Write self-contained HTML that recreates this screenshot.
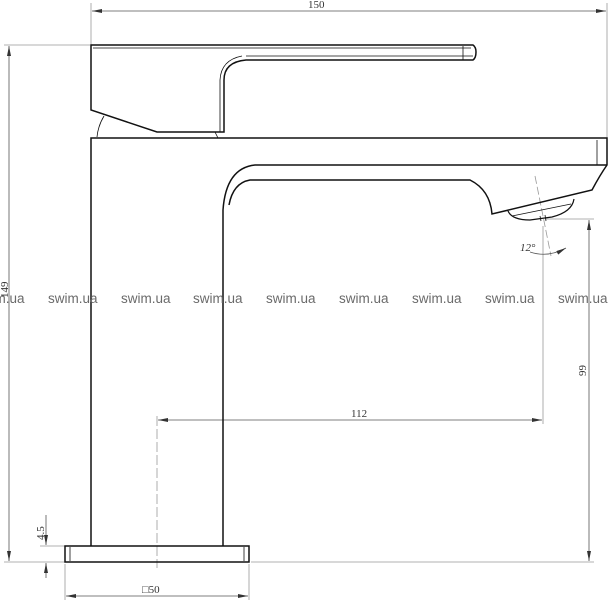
<!DOCTYPE html>
<html><head><meta charset="utf-8"><style>html,body{margin:0;padding:0;background:#fff}svg{display:block}</style></head>
<body>
<svg width="609" height="600" viewBox="0 0 609 600" xmlns="http://www.w3.org/2000/svg">
<defs>
<marker id="a" viewBox="0 0 10 4" refX="10" refY="2" markerWidth="10" markerHeight="4" orient="auto-start-reverse" markerUnits="userSpaceOnUse"><path d="M0,0 L10,2 L0,4 z" fill="#333"/></marker>
</defs>
<g fill="none" stroke="#999" stroke-width="0.8">
<line x1="91" y1="3" x2="91" y2="50"/><line x1="607" y1="3" x2="607" y2="140"/>
<line x1="92" y1="11" x2="606" y2="11" marker-start="url(#a)" marker-end="url(#a)" stroke="#555"/>
<line x1="4" y1="45" x2="90" y2="45"/>
<line x1="4" y1="562" x2="65" y2="562"/>
<line x1="251" y1="562" x2="594" y2="562"/>
<line x1="9" y1="46" x2="9" y2="561" marker-start="url(#a)" marker-end="url(#a)" stroke="#555"/>
<line x1="545" y1="219" x2="594" y2="219"/>
<line x1="589" y1="220" x2="589" y2="561" marker-start="url(#a)" marker-end="url(#a)" stroke="#555"/>
<line x1="543" y1="226" x2="543" y2="424"/>
<line x1="158" y1="420" x2="542" y2="420" marker-start="url(#a)" marker-end="url(#a)" stroke="#555"/>
<line x1="157" y1="416" x2="157" y2="568" stroke-dasharray="10 3"/>
<line x1="40" y1="546" x2="65" y2="546"/>
<line x1="46" y1="515" x2="46" y2="545" marker-end="url(#a)" stroke="#555"/>
<line x1="46" y1="578" x2="46" y2="563" marker-end="url(#a)" stroke="#555"/>
<line x1="65" y1="564" x2="65" y2="600"/><line x1="249" y1="564" x2="249" y2="600"/>
<line x1="66" y1="596" x2="248" y2="596" marker-start="url(#a)" marker-end="url(#a)" stroke="#555"/>
<line x1="535" y1="176" x2="551" y2="256" stroke-dasharray="8 3"/>
<path d="M530,252 Q548,258 566,248" marker-end="url(#a)" stroke="#555"/>
</g>
<g fill="none" stroke="#111" stroke-width="1.5">
<path d="M91,45 L473,45 Q476,47 476,52 Q476,58 473,60 L246,60 Q224,62 224,80 L224,132 L157,132 L91,110 Z"/>
<path d="M93,48 L471,48 M246,56 L473,56 M463,46 L463,60 M242,56 Q221,60 220,80 L220,132" stroke-width="0.8"/>
<path d="M104,116 Q98,126 97,137" stroke-width="0.8"/>
<path d="M215,132 L218,138" stroke-width="0.8"/>
<path d="M91,546 L91,138 L607,138 L607,165 Q600,175 592,190 L492,214 Q490,190 470,180 L250,180 Q233,183 229,205"/>
<path d="M607,165 L255,165 Q226,168 223,210 L223,546" stroke-width="1.5"/>
<line x1="597" y1="140" x2="597" y2="165" stroke-width="0.8"/>
<path d="M508,211 Q512,220 530,220 L552,217 Q572,212 574,199" stroke-width="1.2"/>
<path d="M512,216 L571,204 M545,215 L546,221 M540,216 L541,221" stroke-width="0.8"/>
<rect x="65" y="546" width="184" height="16"/>
<line x1="70" y1="547" x2="70" y2="561" stroke-width="0.8"/>
<line x1="244" y1="547" x2="244" y2="561" stroke-width="0.8"/>
</g>
<g font-family="Liberation Serif, serif" font-size="11" fill="#333">
<text x="308" y="8">150</text>
<text x="351" y="417">112</text>
<text x="142" y="593">□50</text>
<text x="520" y="251" font-style="italic">12°</text>
<text transform="translate(8,298) rotate(-90)">149</text>
<text transform="translate(586,376) rotate(-90)">99</text>
<text transform="translate(44,540) rotate(-90)">4.5</text>
</g>
<g font-family="Liberation Sans, sans-serif" font-size="13.5" fill="#6a6a6a">
<text x="-25" y="303">swim.ua</text><text x="48" y="303">swim.ua</text><text x="121" y="303">swim.ua</text><text x="193" y="303">swim.ua</text><text x="266" y="303">swim.ua</text><text x="339" y="303">swim.ua</text><text x="412" y="303">swim.ua</text><text x="485" y="303">swim.ua</text><text x="558" y="303">swim.ua</text>
</g>
</svg>
</body></html>
